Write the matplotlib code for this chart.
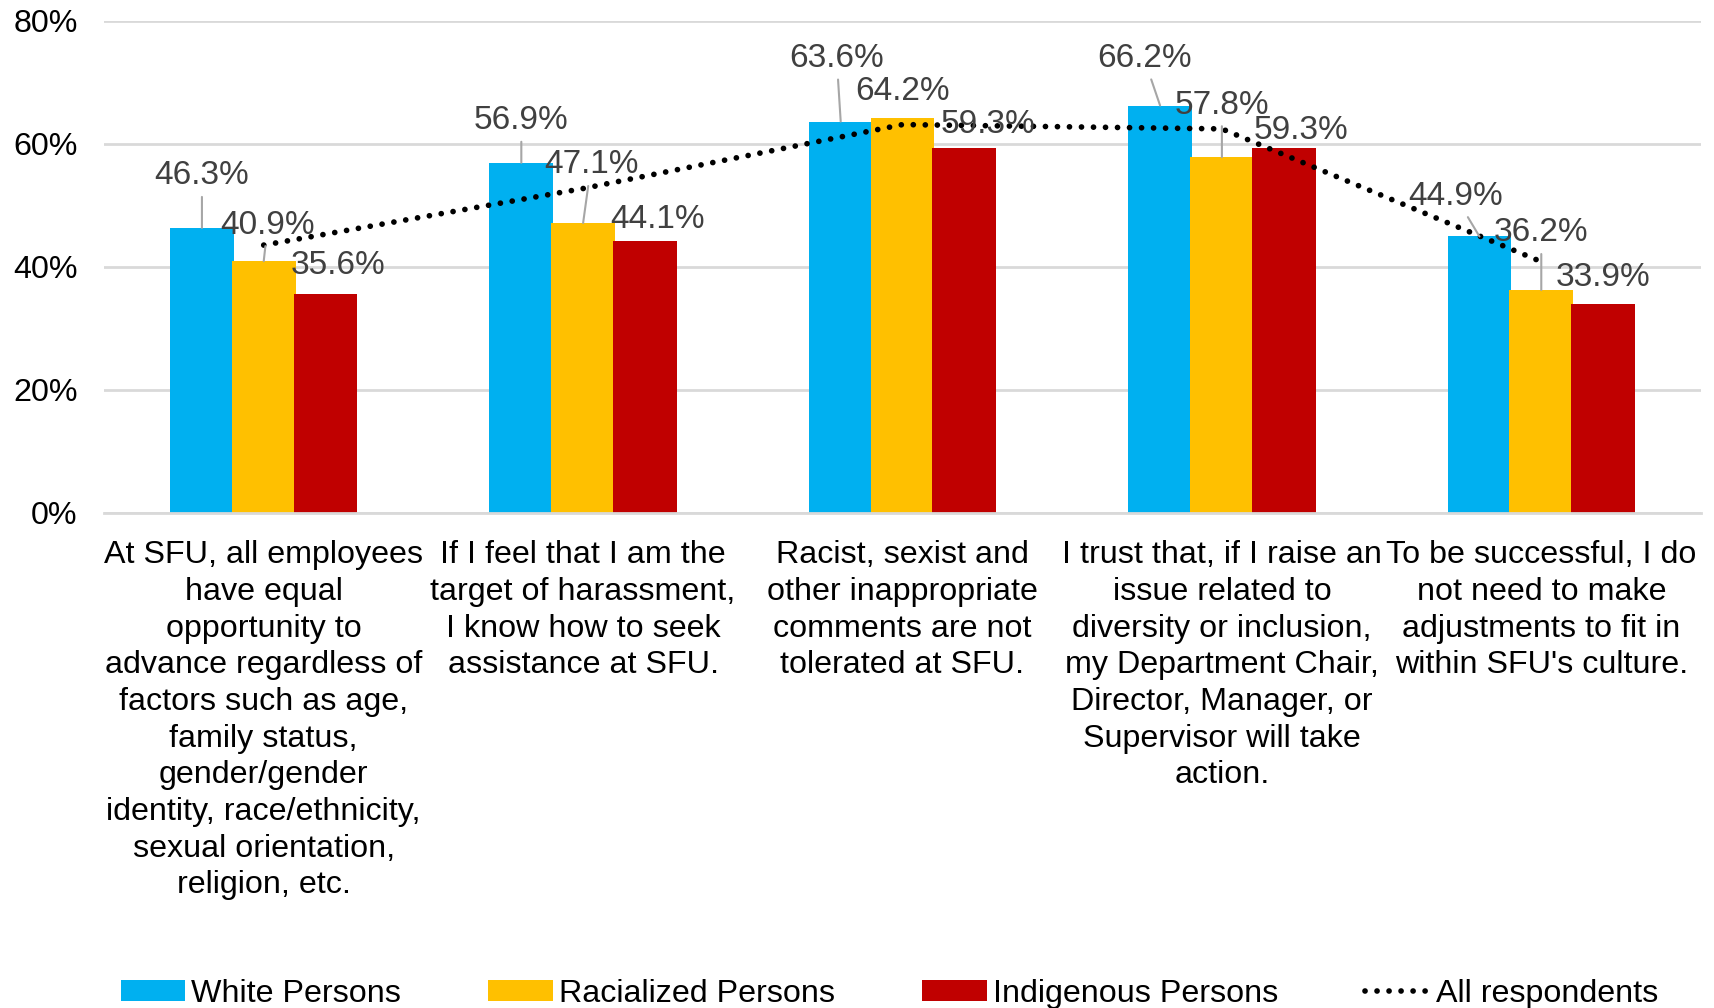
import numpy as np
import matplotlib.pyplot as plt

plt.rcParams['font.family'] = ['Liberation Sans', 'DejaVu Sans']

categories = [
    "At SFU, all employees\nhave equal\nopportunity to\nadvance regardless of\nfactors such as age,\nfamily status,\ngender/gender\nidentity, race/ethnicity,\nsexual orientation,\nreligion, etc.",
    "If I feel that I am the\ntarget of harassment,\nI know how to seek\nassistance at SFU.",
    "Racist, sexist and\nother inappropriate\ncomments are not\ntolerated at SFU.",
    "I trust that, if I raise an\nissue related to\ndiversity or inclusion,\nmy Department Chair,\nDirector, Manager, or\nSupervisor will take\naction.",
    "To be successful, I do\nnot need to make\nadjustments to fit in\nwithin SFU's culture.",
]
white = [46.3, 56.9, 63.6, 66.2, 44.9]
racialized = [40.9, 47.1, 64.2, 57.8, 36.2]
indigenous = [35.6, 44.1, 59.3, 59.3, 33.9]
all_resp = [43.5, 52.7, 63.1, 62.4, 40.8]

series = [
    ("White Persons", white, "#00B0F0"),
    ("Racialized Persons", racialized, "#FFC000"),
    ("Indigenous Persons", indigenous, "#C00000"),
]

# label offsets (pixels) and whether a leader line is drawn, per series and category
label_off = [
    [(0, 52), (0, 42), (-4, 63), (-16, 47), (-24, 40)],
    [(4, 36), (8, 58), (0, 26), (0, 52), (0, 57)],
    [(13, 28), (13, 22), (24, 23), (17, 17), (0, 27)],
]
leader = [
    [True, True, True, True, True],
    [True, True, False, True, True],
    [False, False, False, False, False],
]

fig = plt.figure(figsize=(17.14, 10.08), dpi=100)
ax = fig.add_axes([0.0607, 0.4915, 0.9317, 0.488])

x = np.arange(len(categories))
step = 0.1935
width = 0.2
for i, (name, vals, color) in enumerate(series):
    pos = x + (i - 1) * step
    ax.bar(pos, vals, width, color=color, label=name, zorder=2)
    for j, v in enumerate(vals):
        dx, dy = label_off[i][j]
        props = None
        if leader[i][j]:
            props = dict(arrowstyle='-', color='#A6A6A6', lw=1.5, shrinkA=2, shrinkB=0)
        ax.annotate(f"{v:.1f}%", xy=(pos[j], v), xytext=(dx, dy),
                    textcoords='offset pixels', ha='center', va='center',
                    fontsize=24, color='#404040', arrowprops=props, zorder=4)

ax.plot(x, all_resp, color='black', lw=4.1, linestyle=(0, (0.01, 2.1)),
        dash_capstyle='round', label='All respondents', zorder=3)

ax.set_xlim(-0.5, 4.5)
ax.set_ylim(0, 80)
ax.set_yticks(range(0, 81, 20))
ax.set_yticklabels([f"{t}%" for t in range(0, 81, 20)])
ax.set_xticks(x)
ax.set_xticklabels(categories, linespacing=1.29)
ax.tick_params(axis='both', length=0, labelsize=23.2)
ax.tick_params(axis='y', pad=19)
ax.tick_params(axis='x', pad=20)
ax.grid(axis='y', color='#D9D9D9', lw=2, zorder=0)
ax.set_axisbelow(True)
for s in ['top', 'right', 'left']:
    ax.spines[s].set_visible(False)
ax.spines['bottom'].set_color('#D9D9D9')
ax.spines['bottom'].set_linewidth(2)

handles, labels = ax.get_legend_handles_labels()
order = [1, 2, 3, 0]
fig.legend([handles[k] for k in order], [labels[k] for k in order],
           loc='center', bbox_to_anchor=(0.519, 0.014), ncol=4, frameon=False,
           fontsize=23.2, handlelength=2.0, handleheight=0.6, handletextpad=0.2,
           columnspacing=2.7)

fig.savefig('out.png', dpi=100)
